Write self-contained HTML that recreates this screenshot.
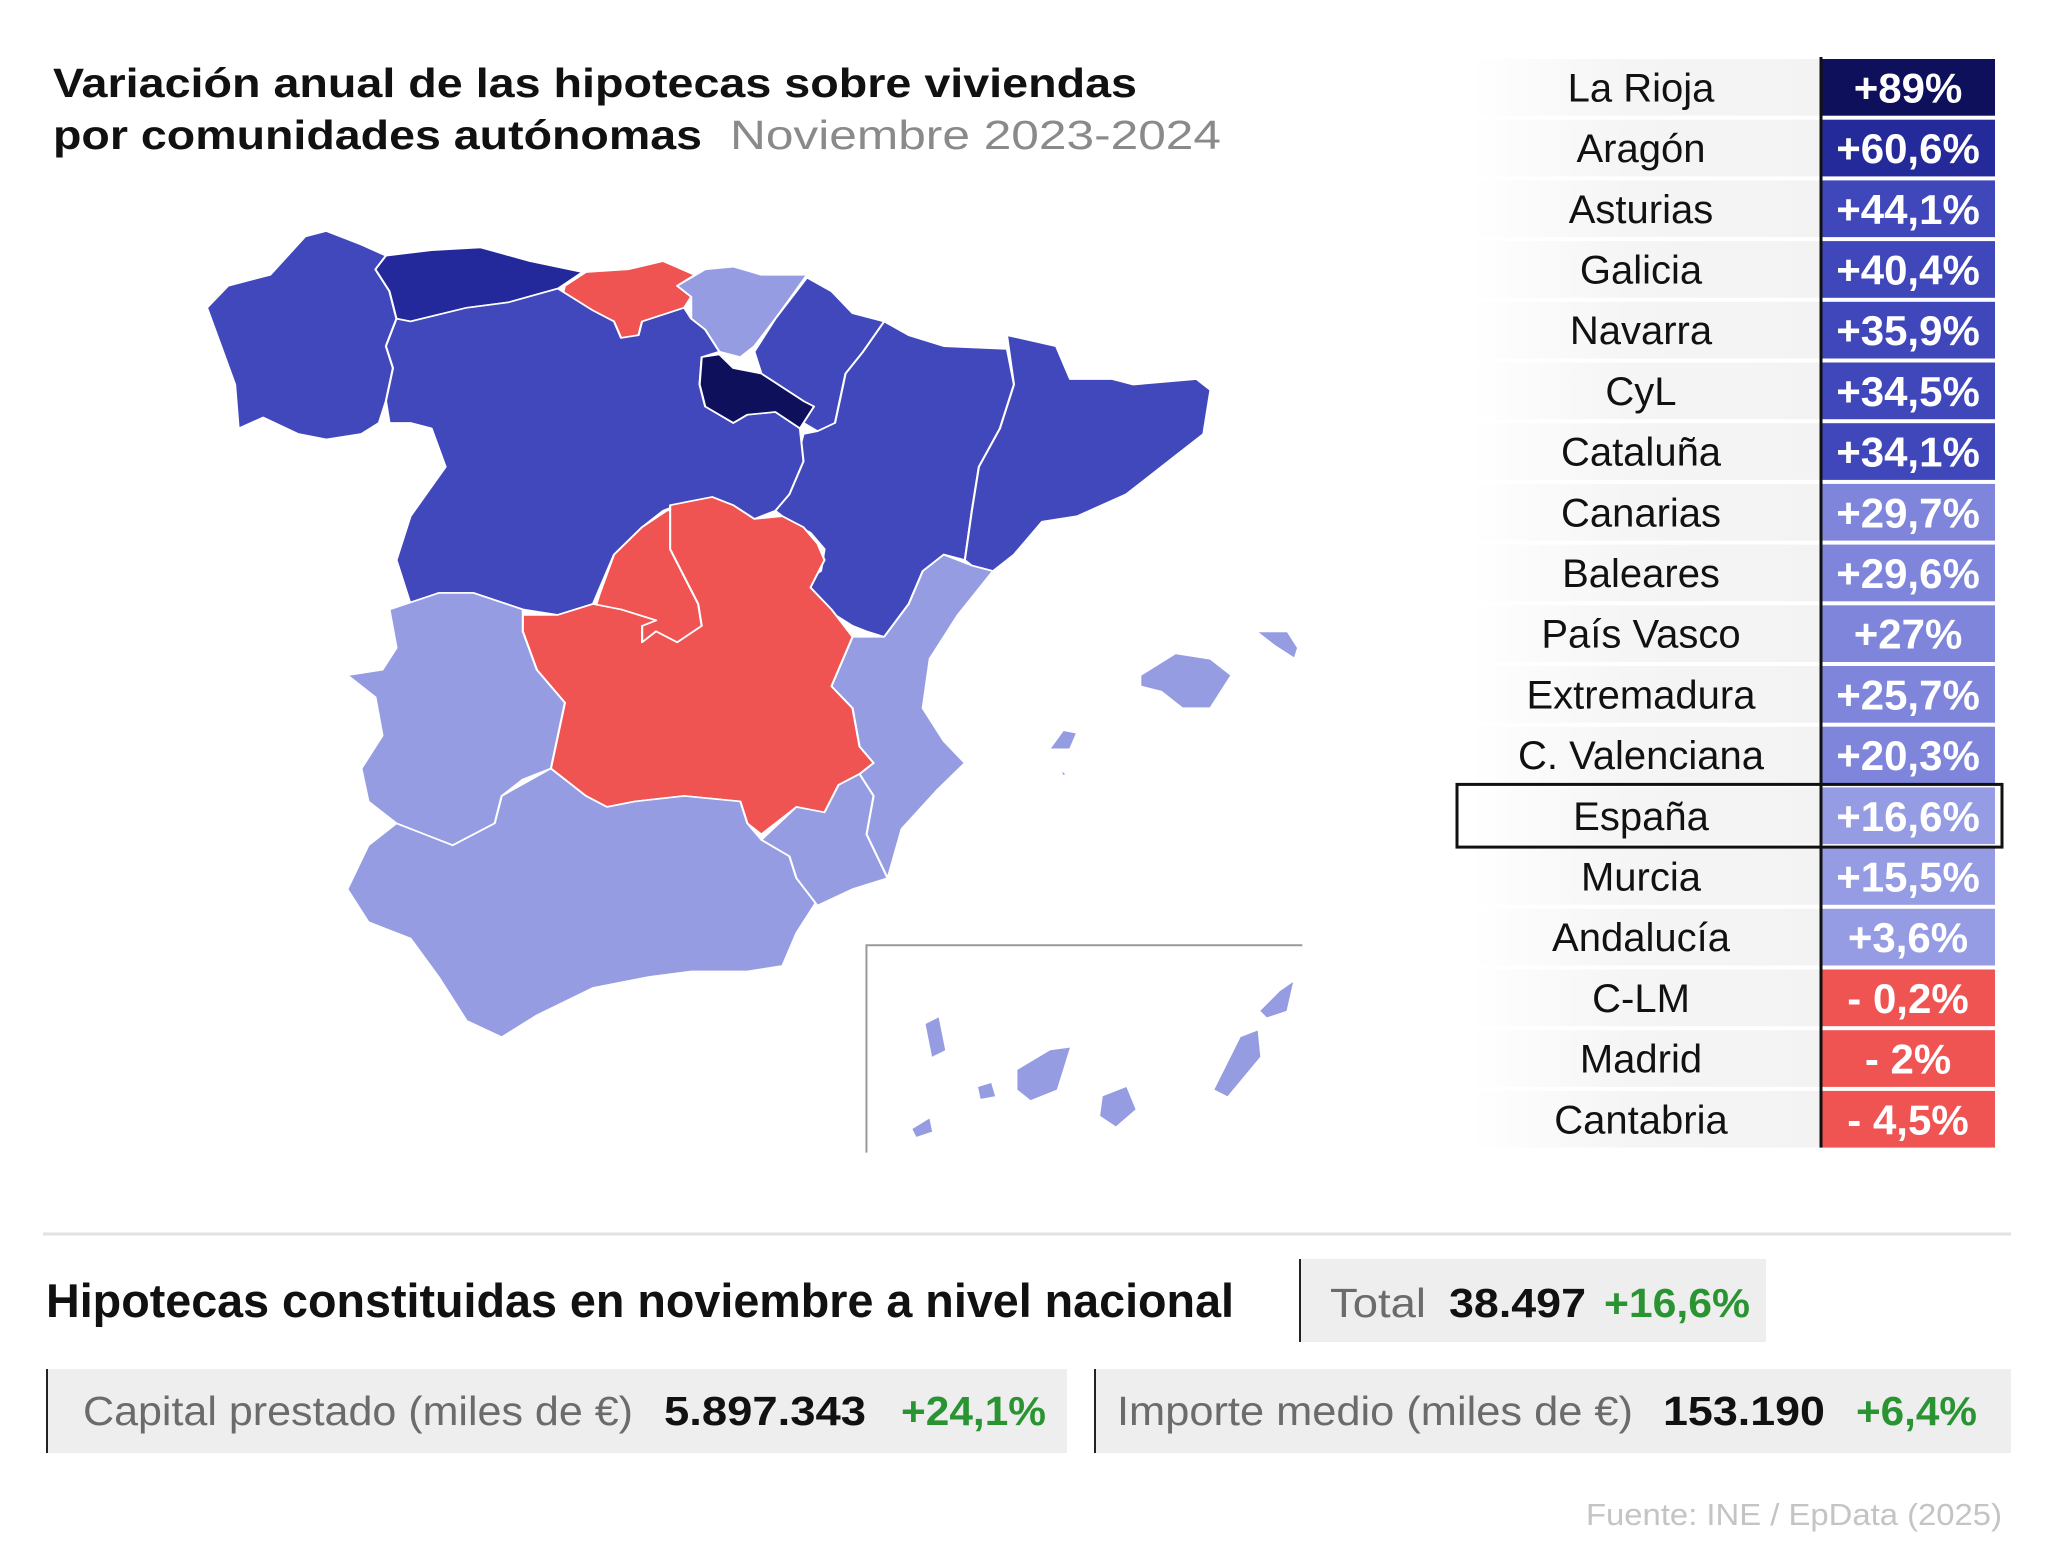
<!DOCTYPE html>
<html><head><meta charset="utf-8">
<style>
html,body{margin:0;padding:0;background:#fff;}
svg{display:block;font-family:"Liberation Sans",sans-serif;}
</style></head>
<body>
<svg id="chart" width="2048" height="1559" viewBox="0 0 2048 1559" xmlns="http://www.w3.org/2000/svg">
<defs>
<linearGradient id="lblg" x1="0" x2="1" y1="0" y2="0">
<stop offset="0" stop-color="#fff"/><stop offset="0.45" stop-color="#f5f5f5"/><stop offset="1" stop-color="#f3f3f3"/>
</linearGradient>
</defs>
<g>
<text x="53" y="97" font-size="41" font-weight="bold" fill="#111" textLength="1084" lengthAdjust="spacingAndGlyphs">Variación anual de las hipotecas sobre viviendas</text>
<text x="53" y="149" font-size="41" font-weight="bold" fill="#111" textLength="649" lengthAdjust="spacingAndGlyphs">por comunidades autónomas</text>
<text x="730" y="149" font-size="41" fill="#8a8a8a" textLength="491" lengthAdjust="spacingAndGlyphs">Noviembre 2023-2024</text>
</g>
<g id="map" transform="translate(200,220) scale(0.7017,0.5485)" stroke="#fff" stroke-width="3" stroke-linejoin="round"></g>
<g id="canarias" transform="scale(1.3128)" stroke="none"></g>
<g id="table"></g>
<line x1="43" y1="1234" x2="2011" y2="1234" stroke="#e2e2e2" stroke-width="3"/>
<text x="46" y="1317" font-size="47" font-weight="bold" fill="#111" textLength="1188" lengthAdjust="spacingAndGlyphs">Hipotecas constituidas en noviembre a nivel nacional</text>
<g>
<rect x="1300" y="1259" width="466" height="83" fill="#eeeeee"/>
<line x1="1300" y1="1259" x2="1300" y2="1342" stroke="#222" stroke-width="2"/>
<text x="1330" y="1317" font-size="41" fill="#6b6b6b" textLength="96" lengthAdjust="spacingAndGlyphs">Total</text>
<text x="1449" y="1317" font-size="41" font-weight="bold" fill="#111" textLength="137" lengthAdjust="spacingAndGlyphs">38.497</text>
<text x="1604" y="1317" font-size="41" font-weight="bold" fill="#2a9433" textLength="146" lengthAdjust="spacingAndGlyphs">+16,6%</text>
</g>
<g>
<rect x="46" y="1369" width="1021" height="84" fill="#eeeeee"/>
<line x1="47" y1="1369" x2="47" y2="1453" stroke="#222" stroke-width="2"/>
<text x="83" y="1425" font-size="41" fill="#6b6b6b" textLength="550" lengthAdjust="spacingAndGlyphs">Capital prestado (miles de €)</text>
<text x="664" y="1425" font-size="41" font-weight="bold" fill="#111" textLength="202" lengthAdjust="spacingAndGlyphs">5.897.343</text>
<text x="901" y="1425" font-size="41" font-weight="bold" fill="#2a9433" textLength="145" lengthAdjust="spacingAndGlyphs">+24,1%</text>
</g>
<g>
<rect x="1094" y="1369" width="917" height="84" fill="#eeeeee"/>
<line x1="1095" y1="1369" x2="1095" y2="1453" stroke="#222" stroke-width="2"/>
<text x="1117" y="1425" font-size="41" fill="#6b6b6b" textLength="516" lengthAdjust="spacingAndGlyphs">Importe medio (miles de €)</text>
<text x="1663" y="1425" font-size="41" font-weight="bold" fill="#111" textLength="162" lengthAdjust="spacingAndGlyphs">153.190</text>
<text x="1856" y="1425" font-size="41" font-weight="bold" fill="#2a9433" textLength="121" lengthAdjust="spacingAndGlyphs">+6,4%</text>
</g>
<text x="1586" y="1525" font-size="31" fill="#c4c4c4" textLength="416" lengthAdjust="spacingAndGlyphs">Fuente: INE / EpData (2025)</text>
</svg>
<script>
const regions = ["La Rioja","Aragón","Asturias","Galicia","Navarra","CyL","Cataluña","Canarias","Baleares","País Vasco","Extremadura","C. Valenciana","España","Murcia","Andalucía","C-LM","Madrid","Cantabria"];
const values = [89,60.6,44.1,40.4,35.9,34.5,34.1,29.7,29.6,27,25.7,20.3,16.6,15.5,3.6,-0.2,-2,-4.5];
const valueLabels = ["+89%","+60,6%","+44,1%","+40,4%","+35,9%","+34,5%","+34,1%","+29,7%","+29,6%","+27%","+25,7%","+20,3%","+16,6%","+15,5%","+3,6%","- 0,2%","- 2%","- 4,5%"];

function colorFor(v){
  if(v>=80) return "#0e105b";
  if(v>=50) return "#252a9a";
  if(v>=30) return "#3f47bb";
  if(v>=20) return "#7e85db";
  if(v>=0) return "#959ce3";
  return "#ef5352";
}
function mapColorFor(v){
  if(v>=80) return "#0e105b";
  if(v>=50) return "#23289a";
  if(v>=30) return "#4148bb";
  if(v>=0) return "#959ce2";
  return "#ef5352";
}
const NS="http://www.w3.org/2000/svg";
function mk(tag,attrs,parent){const e=document.createElementNS(NS,tag);for(const k in attrs)e.setAttribute(k,attrs[k]);parent.appendChild(e);return e;}

// table
const tbl=document.getElementById('table');
const top0=59, rowH=60.7;
function rowY(i){return top0+rowH*i;}
regions.forEach((r,i)=>{
  const y=rowY(i);
  const g=mk('g',{},tbl);
  
  
  mk('rect',{x:1470,y:y,width:350,height:rowH-4,fill:'url(#lblg)'},g);
  const t=mk('text',{x:1641,y:y+rowH/2+12,'font-size':40,'text-anchor':'middle',fill:'#111'},g);
  t.textContent=r;
  const b=mk('rect',{x:1822,y:y,width:173,height:rowH-4,fill:colorFor(values[i])},g);
  
  
  const vt=mk('text',{x:1908,y:y+rowH/2+13,'font-size':42,'font-weight':'bold','text-anchor':'middle',fill:'#fff'},g);
  vt.textContent=valueLabels[i];
});
mk('line',{x1:1821,y1:57,x2:1821,y2:rowY(regions.length)-4,stroke:'#111','stroke-width':3},tbl);
const ei=regions.indexOf("España");
const eb=mk('rect',{x:1457,y:rowY(ei)-3,width:545,height:rowH+2,fill:'none',stroke:'#111','stroke-width':3},tbl);



// map shapes (keys follow the colouring shown in the reference map)
const shapes={
"Galicia":"10,160 40,120 100,100 150,30 180,20 230,45 265,65 250,90 270,130 280,180 265,230 275,270 265,330 255,370 230,390 180,400 140,390 90,360 55,380 50,300 30,230",
"Aragón":"265,65 330,55 400,50 470,75 545,95 510,125 440,150 380,160 300,185 280,180 270,130 250,90",
"Cantabria":"550,95 610,90 660,75 705,100 680,120 700,140 690,160 630,185 625,210 600,215 590,185 560,165 515,145 520,120",
"País Vasco":"680,120 720,90 760,85 800,100 865,100 820,180 790,230 770,250 740,240 720,200 700,180 700,140",
"Navarra":"865,105 900,130 930,170 975,185 945,240 920,280 905,370 880,385 860,370 860,330 800,280 790,240 820,180",
"Asturias":"975,185 1010,210 1060,230 1150,235 1160,300 1140,380 1110,450 1100,530 1090,620 1060,610 1030,640 1010,700 975,760 950,750 930,740 905,720 870,690 860,660 885,640 890,600 870,570 840,550 820,530 830,480 850,440 860,390 880,385 905,370 920,280 945,240",
"Cataluña":"1150,210 1220,230 1240,290 1300,290 1330,300 1420,290 1440,310 1430,390 1380,440 1320,500 1250,540 1200,550 1160,610 1130,640 1100,630 1090,620 1100,530 1110,450 1140,380 1160,300",
"CyL":"300,185 380,160 440,150 510,125 560,165 590,185 600,215 625,210 630,185 690,160 700,180 720,200 740,240 715,250 712,300 720,340 760,370 780,355 820,350 855,380 860,440 840,500 820,530 790,545 760,520 730,505 690,515 660,530 630,560 590,610 560,700 510,720 460,710 390,680 340,680 300,700 280,620 300,540 350,450 330,380 300,370 270,370 265,330 275,270 265,230 280,180",
"La Rioja":"715,250 740,245 760,270 800,280 860,330 875,340 855,380 820,350 780,355 760,370 720,340 712,300",
"Madrid":"665,530 700,520 670,600 690,650 710,700 715,740 680,770 650,750 630,770 630,740 650,730 600,710 560,720 570,680 590,610 630,560",
"C-LM":"670,520 730,505 760,520 790,545 830,540 860,560 880,590 890,620 870,670 900,710 930,760 900,850 930,890 940,960 960,990 940,1010 910,1030 890,1080 850,1070 800,1120 780,1100 770,1060 690,1050 620,1060 580,1070 550,1050 500,1000 510,940 520,880 480,820 460,750 460,720 510,720 560,700 600,710 650,730 630,740 630,770 650,750 680,770 715,740 710,700 690,650 670,600",
"Extremadura":"270,710 340,680 390,680 460,710 460,750 480,820 520,880 510,940 500,1000 460,1020 430,1050 420,1100 390,1120 360,1140 320,1120 280,1100 240,1060 230,1000 260,940 250,870 210,830 260,820 280,780",
"Andalucía":"240,1140 280,1100 320,1120 360,1140 420,1100 430,1050 500,1000 550,1050 580,1070 620,1060 690,1050 770,1060 780,1100 800,1130 840,1160 850,1200 880,1240 850,1300 830,1360 780,1370 700,1370 640,1380 560,1400 480,1450 430,1490 380,1460 340,1380 300,1310 240,1280 210,1220",
"Murcia":"800,1130 850,1070 890,1080 910,1030 940,1010 960,1050 950,1120 980,1200 930,1220 880,1250 850,1200 840,1160",
"C. Valenciana":"1060,610 1100,630 1130,640 1080,720 1040,800 1030,890 1060,950 1090,990 1050,1040 1000,1110 980,1200 950,1120 960,1050 940,1010 960,990 940,960 930,890 900,850 930,760 975,760 1010,700 1030,640",
"Baleares":"1340,830 1390,790 1440,800 1470,830 1440,890 1400,890 1370,860 1340,850|1505,750 1550,750 1565,780 1560,800 1530,775|1210,965 1230,930 1250,935 1240,965|1225,1000 1235,1010 1230,1015"
};
const canarias="705,780 715,775 720,800 710,805|745,828 755,825 758,835 747,837|775,815 800,800 815,798 805,830 785,838 775,830|840,835 858,828 865,845 850,858 838,850|925,830 945,790 958,785 960,805 935,835|960,770 975,755 985,748 980,770 965,775|695,860 708,852 710,862 698,866";

const mapG=document.getElementById('map');
for(const name in shapes){
  const v=values[regions.indexOf(name)];
  shapes[name].split('|').forEach(pts=>{
    const p=mk('polygon',{points:pts,fill:mapColorFor(v)},mapG);
    
    
  });
}
const canG=document.getElementById('canarias');
const cv=values[regions.indexOf("Canarias")];
canarias.split('|').forEach(pts=>{
  const p=mk('polygon',{points:pts,fill:mapColorFor(cv)},canG);
  
  
});
const inset=mk('polyline',{points:"660,878 660,720 992,720",fill:'none',stroke:'#999','stroke-width':1.5},canG);


</script>
</body></html>
